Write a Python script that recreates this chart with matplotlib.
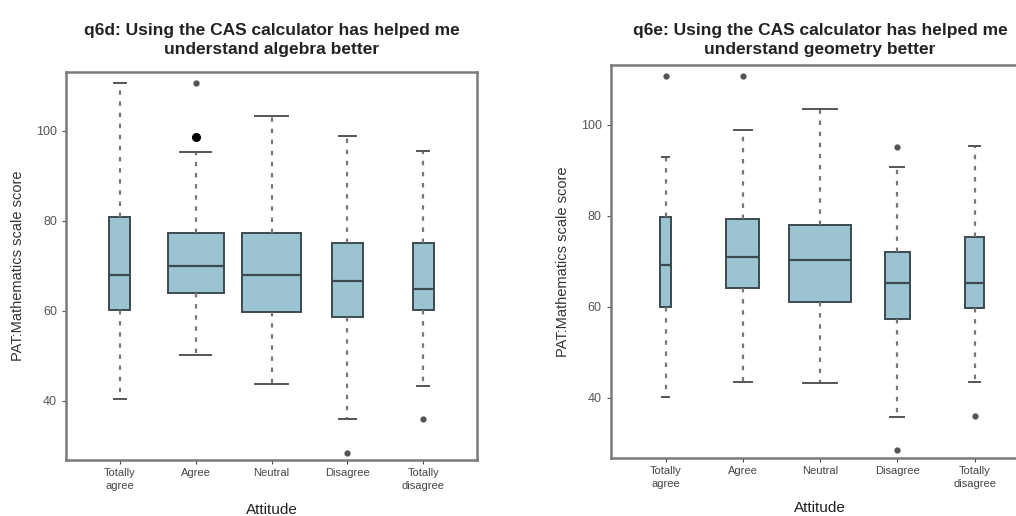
import matplotlib.pyplot as plt

plt.rcParams['font.family'] = ['Liberation Sans', 'DejaVu Sans']

categories = ['Totally\nagree', 'Agree', 'Neutral', 'Disagree', 'Totally\ndisagree']

# q6d: algebra
alg_whislo = [40.4, 50.2, 43.6, 36.0, 43.3]
alg_q1 = [60.2, 64.0, 59.8, 58.7, 60.2]
alg_med = [68.0, 70.0, 68.0, 66.7, 64.9]
alg_q3 = [80.9, 77.4, 77.4, 75.1, 75.1]
alg_whishi = [110.7, 95.3, 103.3, 98.9, 95.6]
alg_fliers = [[], [110.7, 98.7], [], [28.4], [36.0]]
alg_widths = [0.28, 0.74, 0.79, 0.41, 0.28]

# q6e: geometry
geo_whislo = [40.2, 43.5, 43.3, 35.9, 43.5]
geo_q1 = [60.0, 64.1, 61.0, 57.3, 59.7]
geo_med = [69.1, 71.0, 70.2, 65.2, 65.2]
geo_q3 = [79.7, 79.2, 77.9, 72.0, 75.3]
geo_whishi = [93.0, 98.9, 103.5, 90.6, 95.4]
geo_fliers = [[110.7], [110.7], [], [95.2, 28.5], [36.0]]
geo_widths = [0.15, 0.43, 0.81, 0.33, 0.25]

box_fill = '#9cc3d1'
edge = '#3c4a50'
frame = '#7a7a7a'


def draw(ax, lo, q1, med, q3, hi, fliers, widths, title):
    stats = []
    for i in range(len(categories)):
        stats.append(dict(whislo=lo[i], q1=q1[i], med=med[i], q3=q3[i],
                          whishi=hi[i], fliers=fliers[i]))
    ax.bxp(stats, positions=range(1, 6), widths=widths, patch_artist=True,
           showfliers=True, capwidths=[w * 0.55 for w in widths],
           boxprops=dict(facecolor=box_fill, edgecolor=edge, linewidth=1.4),
           medianprops=dict(color=edge, linewidth=1.6),
           whiskerprops=dict(color='#777777', linestyle=(0, (2, 3)), linewidth=1.6),
           capprops=dict(color='#555555', linewidth=1.4),
           flierprops=dict(marker='o', markersize=3.5, markerfacecolor='#555555',
                           markeredgecolor='#555555'))
    ax.set_xlim(0.29, 5.71)
    ax.set_ylim(26.8, 113.1)
    ax.set_yticks([40, 60, 80, 100])
    ax.set_xticks(range(1, 6))
    ax.set_xticklabels(categories, fontsize=8, color='#333333', linespacing=1.35)
    ax.tick_params(axis='y', labelsize=9, colors='#555555', length=3, width=0.8)
    ax.tick_params(axis='x', length=3, width=0.8, colors='#444444', pad=3)
    for s in ax.spines.values():
        s.set_color(frame)
        s.set_linewidth(1.8)
    bbox = ax.get_position()
    ax.set_ylabel('PAT:Mathematics scale score', fontsize=10.5, color='#333333')
    ax.yaxis.set_label_coords(-41 / (bbox.width * 1016), 0.5)
    ax.set_xlabel('Attitude', fontsize=11, color='#222222', va='center')
    ax.xaxis.set_label_coords(0.5, -50 / (bbox.height * 516))
    fig.text((bbox.x0 + bbox.x1) / 2, 1 - 40 / 516, title, ha='center', va='center',
             fontsize=12.5, fontweight='bold', color='#222222', linespacing=1.3)


fig = plt.figure(figsize=(10.16, 5.16), dpi=100)
ax1 = fig.add_axes([0.065, 0.1085, 0.4045, 0.752])
ax2 = fig.add_axes([0.601, 0.1124, 0.4124, 0.7616])

draw(ax1, alg_whislo, alg_q1, alg_med, alg_q3, alg_whishi, alg_fliers, alg_widths,
     'q6d: Using the CAS calculator has helped me\nunderstand algebra better')
draw(ax2, geo_whislo, geo_q1, geo_med, geo_q3, geo_whishi, geo_fliers, geo_widths,
     'q6e: Using the CAS calculator has helped me\nunderstand geometry better')

# the one solid black outlier in the algebra panel
ax1.plot([2], [98.7], 'o', color='black', markersize=5.5)

fig.savefig('out.png', dpi=100)
